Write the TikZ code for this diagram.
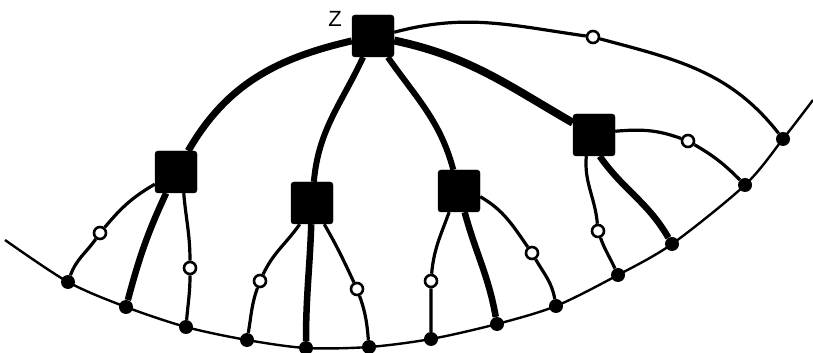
\documentclass[tikz,border=0pt]{standalone}
\usepackage{fontspec}
\setmainfont{Liberation Sans}
\begin{document}
\begin{tikzpicture}[x=1pt,y=1pt,
  sq/.style={fill=black,draw=black,rounded corners=3pt,minimum size=42pt,inner sep=0pt},
  dot/.style={circle,fill=black,inner sep=0pt,minimum size=14pt},
  ring/.style={circle,draw=black,fill=white,line width=2.6pt,inner sep=0pt,minimum size=12pt},
  thinline/.style={line width=3.2pt},
  fatline/.style={line width=6.5pt},
  baseline/.style={line width=2.4pt}]
\useasboundingbox (0,0) rectangle (813,353);
% base curve coordinates
\coordinate (S) at (5,113);
\coordinate (c1) at (68,71);
\coordinate (c2) at (126,46);
\coordinate (c3) at (186,26);
\coordinate (c4) at (247,13);
\coordinate (c5) at (306,5);
\coordinate (c6) at (369,6);
\coordinate (c7) at (431,14);
\coordinate (c8) at (497,29);
\coordinate (c9) at (556,47);
\coordinate (c10) at (618,78);
\coordinate (c11) at (672,109);
\coordinate (c12) at (745,168);
\coordinate (c13) at (783,214);
\coordinate (E) at (813,253);
\draw[baseline] plot[smooth,tension=0.5] coordinates {(S) (c1) (c2) (c3) (c4) (c5) (c6) (c7) (c8) (c9) (c10) (c11) (c12) (c13) (E)};
% dots
\foreach \i in {1,...,13} {\node[dot] (D\i) at (c\i) {};}
% squares
\node[sq] (Z) at (373,317) {};
\node[sq] (L) at (176,181) {};
\node[sq] (ML) at (312,150) {};
\node[sq] (MR) at (459,162) {};
\node[sq] (R) at (594,218) {};
\node[font=\fontsize{22}{22}\selectfont,inner sep=0pt] (zl) at (335,334) {Z};
% rings
\node[ring] (O1) at (100,120) {};
\node[ring] (O3) at (190,85) {};
\node[ring] (O4) at (260,72) {};
\node[ring] (O6) at (357,64) {};
\node[ring] (O7) at (431,72) {};
\node[ring] (O9) at (532,100) {};
\node[ring] (O10) at (598,122) {};
\node[ring] (O12) at (688,212) {};
\node[ring] (O13) at (593,316) {};
% Z edges
\draw[line width=7pt] (Z) to[out=193,in=60] (L);
\draw[line width=6pt] (Z) to[out=245,in=85] (ML);
\draw[line width=6pt] (Z) to[out=-55,in=105] (MR);
\draw[line width=8pt] (Z) to[out=-12,in=150] (R);
\draw[thinline] (Z.10) to[out=15,in=172] (O13) to[out=-15,in=128] (D13);
% L edges
\draw[thinline] (L) to[out=210,in=50] (O1) to[out=235,in=70] (D1);
\draw[fatline] (L) to[out=245,in=75] (D2);
\draw[thinline] (L.-70) to[out=-85,in=90] (O3) to[out=-90,in=85] (D3);
% ML edges
\draw[thinline] (ML.-120) to[out=235,in=65] (O4) to[out=250,in=80] (D4);
\draw[fatline] (ML) to[out=-92,in=90] (D5);
\draw[thinline] (ML.-60) to[out=-60,in=115] (O6) to[out=-70,in=95] (D6);
% MR edges
\draw[thinline] (MR.-115) to[out=250,in=85] (O7) to[out=-90,in=90] (D7);
\draw[fatline] (MR) to[out=-75,in=100] (D8);
\draw[thinline] (MR.-15) to[out=-30,in=125] (O9) to[out=-60,in=100] (D9);
% R edges
\draw[thinline] (R.-110) to[out=-95,in=95] (O10) to[out=-70,in=115] (D10);
\draw[fatline] (R.-75) to[out=-55,in=120] (D11);
\draw[thinline] (R.10) to[out=5,in=160] (O12) to[out=-30,in=135] (D12);
\end{tikzpicture}
\end{document}
